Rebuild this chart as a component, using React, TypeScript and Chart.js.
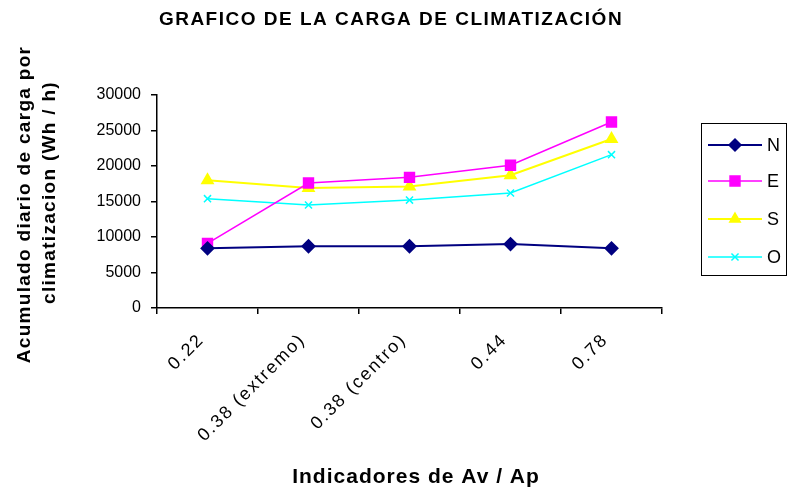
import { useEffect, useRef } from 'react';
import { Chart, registerables } from 'chart.js';
import { drawPoint } from 'chart.js/helpers';

Chart.register(...registerables);

const categories = ['0.22', '0.38 (extremo)', '0.38 (centro)', '0.44', '0.78'];
const seriesN = [8400, 8700, 8700, 9000, 8400];
const seriesE = [9100, 17600, 18400, 20100, 26200];
const seriesS = [18000, 16900, 17100, 18700, 23800];
const seriesO = [15400, 14500, 15200, 16200, 21600];
const yTickValues = [0, 5000, 10000, 15000, 20000, 25000, 30000];

const chartTitle = 'GRAFICO DE LA CARGA DE CLIMATIZACIÓN';
const yTitle = ['Acumulado diario de carga por', 'climatizacion (Wh / h)'];
const xTitle = 'Indicadores de Av / Ap';

const FONT = '"Liberation Sans", Arial, sans-serif';

const decorPlugin = {
  id: 'decor',
  afterDraw(chart: any) {
    const ctx = chart.ctx;
    const area = chart.chartArea;
    ctx.save();
    ctx.fillStyle = '#000';

    // chart title
    ctx.font = `bold 19px ${FONT}`;
    (ctx as any).letterSpacing = '1.5px';
    ctx.textAlign = 'center';
    ctx.textBaseline = 'alphabetic';
    ctx.fillText(chartTitle, 391, 25);

    // y axis title (two lines, rotated)
    ctx.font = `bold 19px ${FONT}`;
    (ctx as any).letterSpacing = '1.3px';
    const cy = (area.top + area.bottom) / 2 + 3;
    [25, 50].forEach((x, i) => {
      ctx.save();
      ctx.translate(x, cy + (i === 1 ? -12 : 0));
      ctx.rotate(-Math.PI / 2);
      ctx.textAlign = 'center';
      ctx.textBaseline = 'middle';
      ctx.fillText(yTitle[i], 0, 0);
      ctx.restore();
    });

    // x tick labels rotated 45 degrees
    const xs = chart.scales.x;
    ctx.font = `18px ${FONT}`;
    (ctx as any).letterSpacing = '1.9px';
    categories.forEach((lab, i) => {
      const px = xs.getPixelForValue(i);
      ctx.save();
      ctx.translate(px - 6, area.bottom + 29);
      ctx.rotate(-Math.PI / 4);
      ctx.textAlign = 'right';
      ctx.textBaseline = 'middle';
      ctx.fillText(lab, 0, 0);
      ctx.restore();
    });

    // x axis title
    ctx.font = `bold 21px ${FONT}`;
    (ctx as any).letterSpacing = '1px';
    ctx.textAlign = 'center';
    ctx.textBaseline = 'alphabetic';
    ctx.fillText(xTitle, 416, 483);
    (ctx as any).letterSpacing = '0px';

    // legend
    const bx = 701, by = 123, bw = 86, bh = 153;
    ctx.fillStyle = '#fff';
    ctx.fillRect(bx, by, bw, bh);
    ctx.strokeStyle = '#000';
    ctx.lineWidth = 1;
    ctx.strokeRect(bx + 0.5, by + 0.5, bw - 1, bh - 1);
    const ys = [145, 181, 219, 257];
    chart.data.datasets.forEach((ds: any, i: number) => {
      const y = ys[i];
      ctx.strokeStyle = ds.borderColor;
      ctx.lineWidth = ds.borderWidth;
      ctx.beginPath();
      ctx.moveTo(708, y);
      ctx.lineTo(762, y);
      ctx.stroke();
      ctx.fillStyle = ds.pointBackgroundColor;
      ctx.strokeStyle = ds.pointBorderColor;
      ctx.lineWidth = 1.5;
      drawPoint(ctx, { pointStyle: ds.pointStyle, radius: ds.pointRadius, rotation: 0, borderWidth: 1.5 }, 735, y);
      ctx.fillStyle = '#000';
      ctx.font = `18px ${FONT}`;
      ctx.textAlign = 'left';
      ctx.textBaseline = 'middle';
      ctx.fillText(ds.label, 767, y + 1);
    });
    ctx.restore();
  },
};

export default function App() {
  const ref = useRef<HTMLCanvasElement>(null);
  useEffect(() => {
    if (!ref.current) return;
    const chart = new Chart(ref.current, {
      type: 'line',
      data: {
        labels: categories,
        datasets: [
          { label: 'N', data: seriesN, borderColor: '#000080', backgroundColor: '#000080', pointBackgroundColor: '#000080', pointBorderColor: '#000080', pointStyle: 'rectRot', pointRadius: 6, borderWidth: 2 },
          { label: 'E', data: seriesE, borderColor: '#ff00ff', backgroundColor: '#ff00ff', pointBackgroundColor: '#ff00ff', pointBorderColor: '#ff00ff', pointStyle: 'rect', pointRadius: 7, borderWidth: 1.5 },
          { label: 'S', data: seriesS, borderColor: '#ffff00', backgroundColor: '#ffff00', pointBackgroundColor: '#ffff00', pointBorderColor: '#ffff00', pointStyle: 'triangle', pointRadius: 6, borderWidth: 2 },
          { label: 'O', data: seriesO, borderColor: '#00ffff', backgroundColor: '#00ffff', pointBackgroundColor: '#00ffff', pointBorderColor: '#00ffff', pointStyle: 'crossRot', pointRadius: 5, borderWidth: 1.5 },
        ] as any,
      },
      options: {
        responsive: false,
        animation: false,
        layout: { padding: { left: 0, top: 95, right: 126, bottom: 0 } },
        plugins: { legend: { display: false }, title: { display: false }, tooltip: { enabled: false } },
        elements: { line: { tension: 0 } },
        scales: {
          x: {
            type: 'category',
            offset: true,
            grid: { display: true, drawOnChartArea: false, drawTicks: true, tickLength: 6, color: '#000', offset: true, lineWidth: 1.5 },
            border: { display: true, color: '#000', width: 1.5 },
            ticks: { display: false, autoSkip: false },
            title: { display: false },
            afterFit: (s: any) => { s.height = 179; },
          },
          y: {
            min: 0,
            max: 30000,
            afterBuildTicks: (s: any) => { s.ticks = yTickValues.map((v) => ({ value: v })); },
            grid: { display: true, drawOnChartArea: false, drawTicks: true, tickLength: 6, color: '#000', lineWidth: 1.5 },
            border: { display: true, color: '#000', width: 1.5 },
            ticks: { color: '#000', font: { family: FONT, size: 16 }, padding: 10, callback: (v: any) => String(v) },
            title: { display: false },
            afterFit: (s: any) => { s.width = 157; },
          },
        },
      } as any,
      plugins: [decorPlugin],
    });
    return () => chart.destroy();
  }, []);
  return (
    <div style={{ position: 'absolute', left: 0, top: 0, width: 788, height: 487, background: '#fff' }}>
      <canvas ref={ref} width={788} height={487} style={{ display: 'block' }} />
    </div>
  );
}
